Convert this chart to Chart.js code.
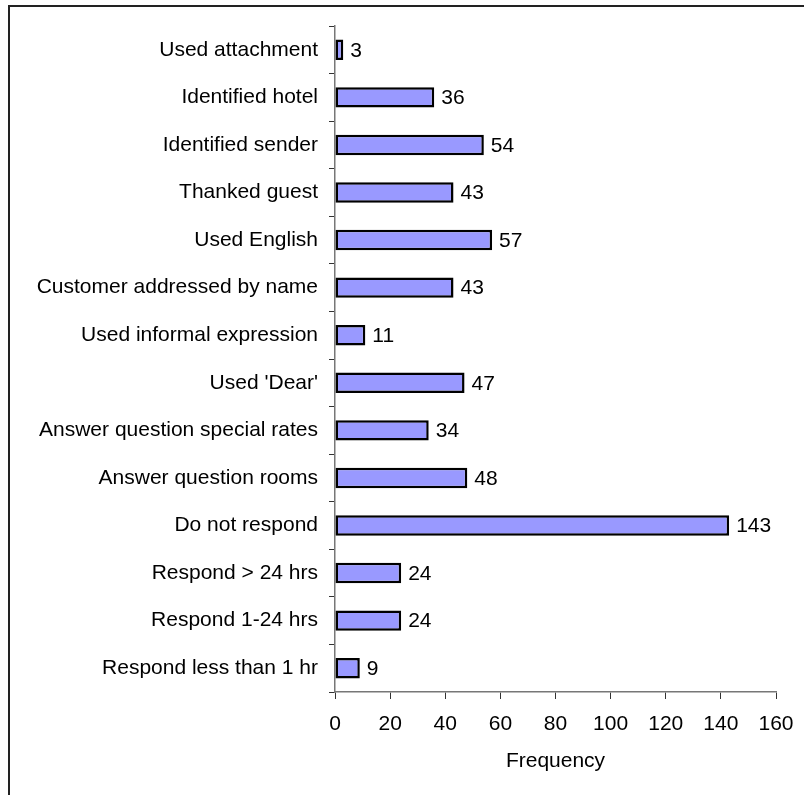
<!DOCTYPE html>
<html>
<head>
<meta charset="utf-8">
<title>Frequency</title>
<script src="https://cdn.jsdelivr.net/npm/chart.js@4"></script>
<style>
  html, body { margin: 0; padding: 0; background: #fff; }
  #wrap { width: 804px; height: 795px; position: relative; }
</style>
</head>
<body>
<div id="wrap"><canvas id="chart"></canvas></div>
<script>
  var categories = ["Used attachment", "Identified hotel", "Identified sender", "Thanked guest",
    "Used English", "Customer addressed by name", "Used informal expression", "Used 'Dear'",
    "Answer question special rates", "Answer question rooms", "Do not respond",
    "Respond > 24 hrs", "Respond 1-24 hrs", "Respond less than 1 hr"];
  var counts = [3, 36, 54, 43, 57, 43, 11, 47, 34, 48, 143, 24, 24, 9];
  var xTicks = [0, 20, 40, 60, 80, 100, 120, 140, 160];

  Chart.defaults.font.family = "'Liberation Sans', Arial, sans-serif";
  Chart.defaults.font.size = 21;
  Chart.defaults.color = '#000';

  // frame round the picture (only top and left edges show)
  var framePlugin = {
    id: 'frame',
    beforeDraw: function (chart) {
      var c = chart.ctx;
      c.save();
      c.strokeStyle = '#222';
      c.lineWidth = 2;
      c.beginPath();
      c.moveTo(9, chart.height);
      c.lineTo(9, 6);
      c.lineTo(chart.width, 6);
      c.stroke();
      c.restore();
    }
  };

  // value labels at the end of each bar
  var valueLabels = {
    id: 'valueLabels',
    afterDatasetsDraw: function (chart) {
      var c = chart.ctx;
      var meta = chart.getDatasetMeta(0);
      c.save();
      c.font = "21px 'Liberation Sans', Arial, sans-serif";
      c.fillStyle = '#000';
      c.textAlign = 'left';
      c.textBaseline = 'middle';
      meta.data.forEach(function (bar, i) {
        c.fillText(counts[i], bar.x + 7, bar.y + 1);
      });
      c.restore();
    }
  };

  new Chart(document.getElementById('chart'), {
    type: 'bar',
    data: {
      labels: categories,
      datasets: [{
        data: counts,
        backgroundColor: '#9999FF',
        borderColor: '#000',
        borderWidth: 2.5,
        borderSkipped: false,
        barPercentage: 0.43,
        categoryPercentage: 1
      }]
    },
    options: {
      indexAxis: 'y',
      responsive: true,
      maintainAspectRatio: false,
      animation: false,
      layout: { padding: { top: 26, right: 28, left: 0, bottom: 0 } },
      plugins: { legend: { display: false }, tooltip: { enabled: false } },
      scales: {
        x: {
          min: 0, max: 160,
          afterBuildTicks: function (s) { s.ticks = xTicks.map(function (v) { return { value: v }; }); },
          afterFit: function (s) { s.height = 103; s.paddingRight = 0; s.paddingLeft = 0; },
          grid: { drawOnChartArea: false, tickLength: 7, color: '#333' },
          border: { display: true, color: '#777', width: 1.5 },
          ticks: { padding: 13, maxRotation: 0 },
          title: { display: true, text: 'Frequency', padding: { top: 0, bottom: 21 } }
        },
        y: {
          afterFit: function (s) { s.width = 335; },
          grid: { drawOnChartArea: false, offset: true, tickLength: 6, color: '#333' },
          border: { display: true, color: '#777', width: 1.5 },
          ticks: { padding: 11, autoSkip: false }
        }
      }
    },
    plugins: [framePlugin, valueLabels]
  });
</script>
</body>
</html>
